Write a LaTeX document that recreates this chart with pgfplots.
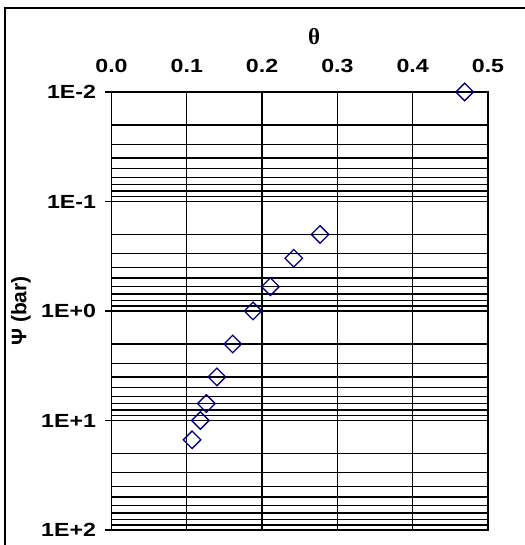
\documentclass[border=0pt]{standalone}
\usepackage{pgfplots}
\pgfplotsset{compat=1.18}
\usepackage{fontspec}
\setmainfont{Liberation Sans}
\newfontfamily\lab{Liberation Sans}[FakeStretch=1.22]
\newfontfamily\serifb{Liberation Serif}
\definecolor{navy}{RGB}{0,0,128}
\begin{document}
\begin{tikzpicture}[x=1pt,y=1pt]
\useasboundingbox (0,0) rectangle (524,545);
\draw[line width=1.5pt] (5,-2) -- (5,537) -- (526,537);
\begin{axis}[
  at={(111.5pt,15pt)}, anchor=south west,
  scale only axis, width=376.5pt, height=438pt,
  xmin=0, xmax=0.5,
  ymode=log, ymin=0.01, ymax=100, y dir=reverse,
  xtick={0,0.1,0.2,0.3,0.4,0.5},
  xticklabels={0.0,0.1,0.2,0.3,0.4,0.5},
  xticklabel pos=upper,
  xticklabel style={yshift=9pt},
  ytick={0.01,0.1,1,10,100},
  yticklabels={1E-2,1E-1,1E+0,1E+1,1E+2},
  yticklabel style={xshift=-5pt},
  ytick pos=left,
  minor ytick={0.02,0.03,0.04,0.05,0.06,0.07,0.08,0.09,0.2,0.3,0.4,0.5,0.6,0.7,0.8,0.9,2,3,4,5,6,7,8,9,20,30,40,50,60,70,80,90},
  xmajorgrids, ymajorgrids, yminorgrids,
  major grid style={black, line width=1.3pt},
  minor grid style={black, line width=1.3pt},
  axis line style={black, line width=1.3pt},
  tick align=outside,
  major tick length=7pt, minor tick length=0pt,
  xtick style={draw=none},
  ytick style={black, line width=1.1pt},
  ticklabel style={font=\lab\bfseries\fontsize{19}{22}\selectfont},
  xlabel={\serifb\bfseries\fontsize{23}{25}\selectfont θ},
  xlabel style={at={(axis description cs:0.538,1.1267)}, anchor=center},
  ylabel={\bfseries\fontsize{21}{24}\selectfont Ψ (bar)},
  ylabel style={at={(axis description cs:-0.2404,0.5)}, anchor=center},
  clip=false,
]
\addplot[only marks, mark=square, mark size=6.2pt,
  mark options={rotate=45, draw=navy, fill=none, line width=1.3pt}]
  coordinates {
  (0.469,0.01) (0.277,0.2) (0.242,0.33) (0.211,0.6) (0.188,1)
  (0.161,2) (0.140,4) (0.126,7) (0.118,10) (0.107,15)
  };
\end{axis}
\end{tikzpicture}
\end{document}
